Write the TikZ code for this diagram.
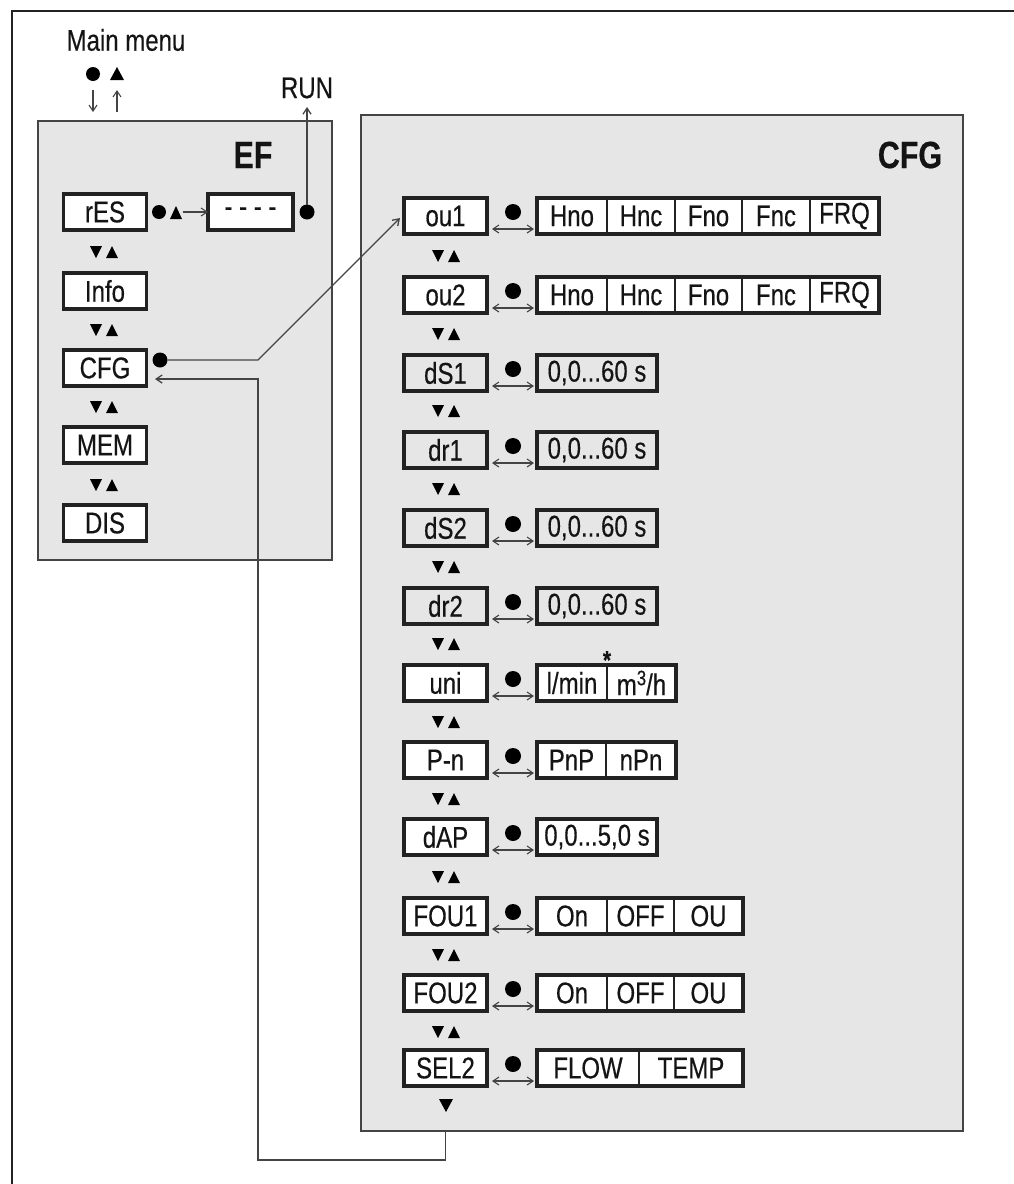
\documentclass[tikz,border=0pt]{standalone}
\usepackage{fontspec}
\setmainfont{Liberation Sans}[FakeStretch=0.8, FakeBold=0.35]
\usetikzlibrary{arrows.meta}
\definecolor{panelgrey}{HTML}{E6E6E6}
\definecolor{linegrey}{HTML}{444444}
\definecolor{boxblack}{HTML}{222222}
\definecolor{txt}{HTML}{141414}
\newcommand\pairtri[2]{%
  \fill[black] (#1-14,#2-6) -- (#1-2,#2-6) -- (#1-8,#2+6) -- cycle;
  \fill[black] (#1+2,#2+6) -- (#1+14,#2+6) -- (#1+8,#2-6) -- cycle;}
\newcommand\dbl[1]{\draw[dblarr] (492,#1+13) -- (534,#1+13);}
\begin{document}
\begin{tikzpicture}[x=1pt,y=-1pt,
  every node/.style={inner sep=0pt, outer sep=0pt, text=txt},
  lbl/.style={font=\fontsize{30}{33}\selectfont},
  ttl/.style={font=\bfseries\fontsize{38}{40}\selectfont},
  item/.style={draw=boxblack, line width=3.2pt, fill=white, minimum width=83pt, minimum height=36pt, font=\fontsize{30}{33}\selectfont},
  gitem/.style={item, fill=panelgrey},
  cell/.style={draw=boxblack, line width=1.3pt, fill=white, minimum height=36pt, anchor=west, font=\fontsize{30}{33}\selectfont},
  gcell/.style={cell, fill=panelgrey},
  frame/.style={draw=boxblack, line width=3.2pt},
  panel/.style={draw=linegrey, line width=1.5pt, fill=panelgrey},
  conn/.style={draw=linegrey, line width=1.3pt},
  arr/.style={conn, -{Straight Barb[length=6pt,width=8pt]}},
  dblarr/.style={conn, line width=1.1pt, {Straight Barb[length=6pt,width=8pt]}-{Straight Barb[length=6pt,width=8pt]}},
  dot/.style={circle, fill=black, minimum size=15pt},
]
\useasboundingbox (0,0) rectangle (1014,1184);
% outer frame
\draw[line width=2.2pt, draw=boxblack] (12,1184) -- (12,11) -- (1014,11);

% panels
\node[panel, minimum width=294pt, minimum height=439pt] (efp) at (185,340.5) {};
\node[panel, minimum width=602pt, minimum height=1016pt] (cfgp) at (662,623) {};
\node[ttl] (eft) at (253,155) {EF};
\node[ttl] (cfgt) at (910,155) {CFG};

% main menu
\node[lbl] (mm) at (126,40) {Main menu};
\fill[black] (93,74) circle (7);
\fill[black] (110,80) -- (124,80) -- (117,67) -- cycle;
\coordinate (mdA) at (93,90); \coordinate (mdB) at (93,112);
\coordinate (muA) at (117,112); \coordinate (muB) at (117,90);
\draw[arr, line width=1.1pt] (mdA) -- (mdB);
\draw[arr, line width=1.1pt] (muA) -- (muB);
\node[lbl] (run) at (307,88) {RUN};

% EF items
\node[item] (res) at (105,212) {rES};
\node[item] (info) at (105,291) {Info};
\node[item] (cfg) at (105,368) {CFG};
\node[item] (mem) at (105,445) {MEM};
\node[item] (dis) at (105,523) {DIS};
\pairtri{104}{252}
\pairtri{104}{330}
\pairtri{104}{407}
\pairtri{104}{485}

\node[dot, minimum size=14pt] (resdot) at (159,212) {};
\fill[black] (170,219) -- (182,219) -- (176,206) -- cycle;
\node[item, minimum width=85pt] (dash) at (250.5,212) {- - - -};
\coordinate (resarr) at (183,212);
\draw[arr, line width=1.1pt] (resarr) -- (dash.west);
\node[dot] (rundot) at (307,212) {};
\coordinate (runtip) at (307,107);
\draw[arr] (rundot) -- (runtip);
\node[dot] (cfgdot) at (160,360) {};

% CFG items
\node[item] (ou1) at (445.5,216) {ou1};
\node[item] (ou2) at (445.5,295) {ou2};
\node[gitem] (ds1) at (445.5,373) {dS1};
\node[gitem] (dr1) at (445.5,450) {dr1};
\node[gitem] (ds2) at (445.5,528) {dS2};
\node[gitem] (dr2) at (445.5,606) {dr2};
\node[item] (uni) at (445.5,683) {uni};
\node[item] (pn) at (445.5,760) {P-n};
\node[item] (dap) at (445.5,837) {dAP};
\node[item] (fou1) at (445.5,916) {FOU1};
\node[item] (fou2) at (445.5,993) {FOU2};
\node[item] (sel2) at (445.5,1068) {SEL2};
\foreach \y in {256,334,411,489,567,644,722,799,877,955,1032} {\pairtri{446}{\y}}
\fill[black] (439,1099) -- (453,1099) -- (446,1112) -- cycle;

% dots and double arrows
\foreach \y [count=\i] in {216,295,373,450,528,606,683,760,837,916,993,1068} {
  \node[dot, minimum size=16pt] (sd\i) at (513,\y-4) {};
  \dbl{\y}
}

% value boxes
\foreach \r/\y in {a/216,b/295} {
  \node[cell, minimum width=70pt] (\r1) at (537,\y) {Hno};
  \node[cell, minimum width=68pt] (\r2) at (607,\y) {Hnc};
  \node[cell, minimum width=67pt] (\r3) at (675,\y) {Fno};
  \node[cell, minimum width=68pt] (\r4) at (742,\y) {Fnc};
  \node[cell, minimum width=69pt] (\r5) at (810,\y) {FRQ};
  \draw[frame] (\r1.north west) rectangle (\r5.south east);
}
\foreach \r/\y in {c/373,d/450,e/528,f/606} {
  \node[gcell, minimum width=120pt] (\r1) at (537,\y) {0,0...60 s};
  \draw[frame] (\r1.north west) rectangle (\r1.south east);
}
\node[cell, minimum width=70pt] (g1) at (537,683) {l/min};
\node[cell, minimum width=69pt] (g2) at (607,683) {m\raisebox{0.33em}{\fontsize{21}{21}\selectfont 3}/h};
\draw[frame] (g1.north west) rectangle (g2.south east);
\node[font=\bfseries\fontsize{26}{26}\selectfont] (star) at (607,660) {*};

\node[cell, minimum width=69pt] (h1) at (537,760) {PnP};
\node[cell, minimum width=70pt] (h2) at (606,760) {nPn};
\draw[frame] (h1.north west) rectangle (h2.south east);

\node[cell, minimum width=120pt] (i1) at (537,837) {0,0...5,0 s};
\draw[frame] (i1.north west) rectangle (i1.south east);

\foreach \r/\y in {j/916,k/993} {
  \node[cell, minimum width=70pt] (\r1) at (537,\y) {On};
  \node[cell, minimum width=67pt] (\r2) at (607,\y) {OFF};
  \node[cell, minimum width=69pt] (\r3) at (674,\y) {OU};
  \draw[frame] (\r1.north west) rectangle (\r3.south east);
}
\node[cell, minimum width=102pt] (l1) at (537,1068) {FLOW};
\node[cell, minimum width=104pt] (l2) at (639,1068) {TEMP};
\draw[frame] (l1.north west) rectangle (l2.south east);

% connectors
\coordinate (tipou1) at (400,218);
\draw[arr] (cfgdot) -- (258,360) -- (tipou1);
\coordinate (cfgin) at (155,379);
\draw[arr] (sel2 |- cfgp.south) -- ++(0,29) -| (258,379) -- (cfgin);
\end{tikzpicture}
\end{document}
